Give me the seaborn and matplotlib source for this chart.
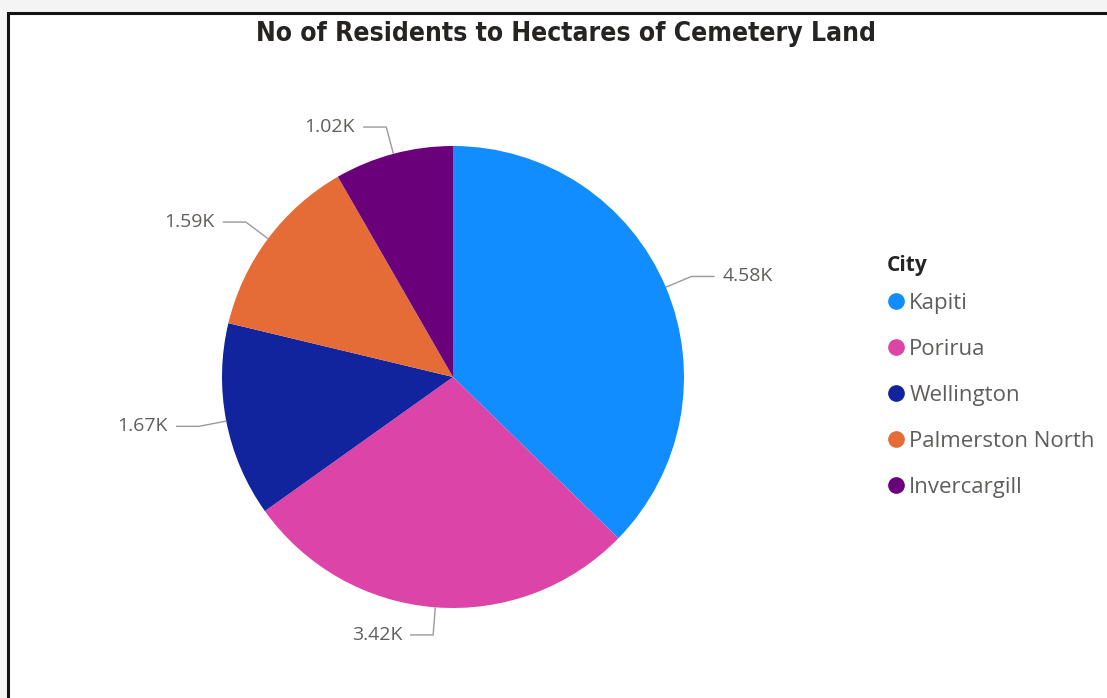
import numpy as np
import matplotlib
matplotlib.use("Agg")
import matplotlib.pyplot as plt
from matplotlib.lines import Line2D
from matplotlib.patches import Rectangle
import seaborn as sns

# Residents per hectare of cemetery land, by city
cities = ["Kapiti", "Porirua", "Wellington", "Palmerston North", "Invercargill"]
residents_per_ha = [4580, 3420, 1670, 1590, 1020]
value_labels = ["4.58K", "3.42K", "1.67K", "1.59K", "1.02K"]
city_colors = ["#118DFF", "#DD44A8", "#12239E", "#E66C37", "#6B007B"]

sns.set_theme(style="white")
plt.rcParams["font.family"] = ["Open Sans", "DejaVu Sans"]

W, H = 1107, 698
fig = plt.figure(figsize=(W / 100, H / 100), dpi=100)
fig.patch.set_facecolor("#f4f4f4")

# white card with dark border, kept behind everything else
card = Rectangle((8 / W, -0.05), 1.1, 1 - 13 / H + 0.05, transform=fig.transFigure,
                 facecolor="white", edgecolor="#111111", linewidth=2.2, zorder=-10)
fig.patches.append(card)

# pie axes: centre at (453, 377) px, radius 231 px
cx, cy, rpx = 453, 377, 231
half = 300
ax = fig.add_axes([(cx - half) / W, (H - cy - half) / H, 2 * half / W, 2 * half / H])
ax.set_aspect("equal")
ax.axis("off")
ax.patch.set_alpha(0)

palette = sns.color_palette(city_colors)
wedges, _ = ax.pie(residents_per_ha, colors=palette, startangle=90, counterclock=False,
                   radius=1.0, wedgeprops=dict(linewidth=0))
ax.set_xlim(-half / rpx, half / rpx)
ax.set_ylim(-half / rpx, half / rpx)

# leader lines and value labels
for w, lab in zip(wedges, value_labels):
    mid = np.deg2rad((w.theta1 + w.theta2) / 2)
    x0, y0 = 1.0 * np.cos(mid), 1.0 * np.sin(mid)
    x1, y1 = 1.12 * np.cos(mid), 1.12 * np.sin(mid)
    side = 1 if np.cos(mid) >= 0 else -1
    x2 = x1 + side * 0.1
    ax.plot([x0, x1, x2], [y0, y1, y1], color="#9a9a9a", lw=1.0, solid_capstyle="butt")
    ax.text(x2 + side * 0.035, y1, lab, ha="left" if side > 0 else "right", va="center",
            fontsize=14, color="#605e5c")

# legend
fig.text(887 / W, 1 - 266 / H, "City", ha="left", va="center", fontsize=15,
         fontweight="bold", color="#252423")
handles = [Line2D([0], [0], marker="o", linestyle="none", markersize=11,
                  markerfacecolor=c, markeredgecolor=c) for c in palette]
leg = fig.legend(handles, cities, loc="upper left",
                 bbox_to_anchor=(886 / W, 1 - 293 / H), frameon=False,
                 fontsize=16, handletextpad=0.15, handlelength=0.9,
                 labelspacing=1.12, borderaxespad=0, borderpad=0)
for t in leg.get_texts():
    t.set_color("#605e5c")

fig.text(566 / W, 1 - 34 / H, "No of Residents to Hectares of Cemetery Land",
         ha="center", va="center", fontsize=19, fontweight="bold", color="#252423",
         family="DejaVu Sans", fontstretch="condensed")

fig.savefig("out.png", dpi=100, facecolor=fig.get_facecolor())
